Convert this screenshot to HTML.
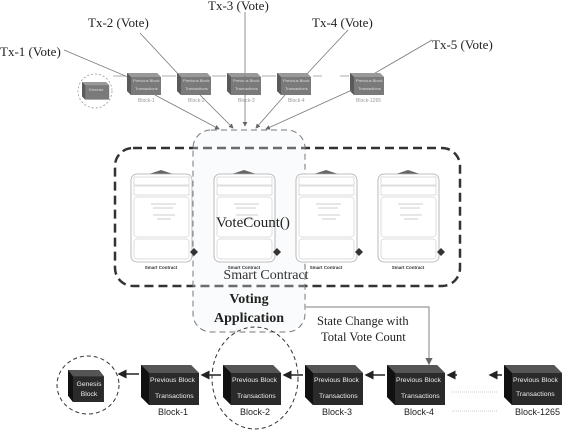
<!DOCTYPE html>
<html><head><meta charset="utf-8"><style>
html,body{margin:0;padding:0;background:#fff;}
svg{display:block;}
.tx{font-family:"Liberation Serif",serif;font-size:13px;fill:#222;}
.sm{font-family:"Liberation Sans",sans-serif;font-size:4px;fill:#ddd;}
.lb{font-family:"Liberation Sans",sans-serif;font-size:9px;fill:#222;}
.wt{font-family:"Liberation Sans",sans-serif;font-size:6.8px;fill:#eee;}
</style></head><body>
<svg width="566" height="430" viewBox="0 0 566 430" xmlns="http://www.w3.org/2000/svg">
<defs>
<marker id="ah" markerWidth="6" markerHeight="6" refX="5" refY="3" orient="auto"><path d="M0,0 L6,3 L0,6 z" fill="#666"/></marker>
<marker id="ahb" markerWidth="6" markerHeight="6" refX="5" refY="3" orient="auto"><path d="M0,0 L6,3 L0,6 z" fill="#222"/></marker>
<g id="tb">
<path d="M0,0 h30 l4,4 v18 h-30 l-4,-4z" fill="#7a7a7a"/>
<path d="M0,0 h30 l4,4 h-30z" fill="#999"/>
<path d="M0,0 l4,4 v18 l-4,-4z" fill="#5a5a5a"/>
</g>
<g id="bb">
<path d="M0,0 h50 l8,8 v32 h-50 l-8,-8z" fill="#2a2a2a"/>
<path d="M0,0 h50 l8,8 h-50z" fill="#555"/>
<path d="M0,0 l8,8 v32 l-8,-8z" fill="#111"/>
</g>
<g id="card">
<path d="M18,-6 l12,-4 l12,4z" fill="#666"/>
<rect x="0" y="-6" width="61" height="88" rx="6" fill="#fff" stroke="#aaa" stroke-width="0.8"/>
<rect x="3" y="-3" width="55" height="8" fill="none" stroke="#bbb" stroke-width="0.5"/>
<rect x="3" y="6" width="55" height="9" fill="none" stroke="#bbb" stroke-width="0.5"/>
<rect x="3" y="17" width="55" height="40" rx="3" fill="none" stroke="#bbb" stroke-width="0.5"/>
<rect x="3" y="59" width="55" height="20" rx="3" fill="none" stroke="#bbb" stroke-width="0.5"/>
<path d="M20,24 h25 M22,28 h20 M22,35 h22 M26,39 h14" stroke="#999" stroke-width="0.6"/>
<path d="M63,68 l4,4 l-4,4 l-4,-4z" fill="#333"/>
<text x="30" y="89" font-family="Liberation Sans,sans-serif" font-size="4.5" font-weight="bold" fill="#333" text-anchor="middle">Smart Contract</text>
</g>
</defs>

<text class="tx" x="0" y="56">Tx-1 (Vote)</text>
<text class="tx" x="88" y="27">Tx-2 (Vote)</text>
<text class="tx" x="208" y="10">Tx-3 (Vote)</text>
<text class="tx" x="312" y="27">Tx-4 (Vote)</text>
<text class="tx" x="432" y="49">Tx-5 (Vote)</text>
<g stroke="#777" stroke-width="0.8">
<line x1="64" y1="50" x2="128" y2="77"/>
<line x1="140" y1="33" x2="180" y2="76"/>
<line x1="245" y1="12" x2="245" y2="75"/>
<line x1="348" y1="30" x2="305" y2="76"/>
<line x1="432" y1="40" x2="370" y2="76"/>
</g>
<circle cx="95" cy="91" r="17" fill="none" stroke="#999" stroke-width="0.8" stroke-dasharray="2,2"/>
<g transform="translate(82,82) scale(0.8)"><use href="#tb"/></g>
<text x="96" y="91" class="sm" text-anchor="middle">Genesis</text>
<use href="#tb" x="127" y="73"/><use href="#tb" x="177" y="73"/><use href="#tb" x="227" y="73"/><use href="#tb" x="277" y="73"/><use href="#tb" x="350" y="73"/>
<g class="sm"><text x="133" y="82">Previous Block</text><text x="135" y="90">Transactions</text>
<text x="183" y="82">Previous Block</text><text x="185" y="90">Transactions</text>
<text x="233" y="82">Previous Block</text><text x="235" y="90">Transactions</text>
<text x="283" y="82">Previous Block</text><text x="285" y="90">Transactions</text>
<text x="356" y="82">Previous Block</text><text x="358" y="90">Transactions</text></g>
<g font-family="Liberation Sans,sans-serif" font-size="5" fill="#999">
<text x="138" y="102">Block-1</text><text x="188" y="102">Block-2</text><text x="238" y="102">Block-3</text><text x="288" y="102">Block-4</text><text x="356" y="102">Block-1265</text></g>
<g stroke="#888" stroke-width="0.7">
<line x1="126" y1="76" x2="113" y2="76"/><line x1="176" y1="76" x2="162" y2="76"/><line x1="226" y1="76" x2="212" y2="76"/><line x1="276" y1="76" x2="262" y2="76"/><line x1="349" y1="76" x2="340" y2="76"/><line x1="322" y1="76" x2="313" y2="76"/>
</g>
<g stroke="#777" stroke-width="0.8" marker-end="url(#ah)">
<line x1="155" y1="95" x2="219" y2="129"/>
<line x1="200" y1="95" x2="233" y2="128"/>
<line x1="245" y1="75" x2="245" y2="126"/>
<line x1="285" y1="95" x2="256" y2="128"/>
<line x1="352" y1="90" x2="266" y2="129"/>
</g>

<rect x="115" y="148" width="345" height="138" rx="18" fill="none" stroke="#333" stroke-width="2.5" stroke-dasharray="9,5"/>
<rect x="193" y="130" width="112" height="202" rx="18" fill="rgba(240,243,246,0.3)" stroke="#777" stroke-width="1" stroke-dasharray="6,4"/>
<use href="#card" x="131" y="180"/>
<use href="#card" x="214" y="180"/>
<use href="#card" x="296" y="180"/>
<use href="#card" x="378" y="180"/>
<text x="216" y="227" font-family="Liberation Serif,serif" font-size="15" fill="#222">VoteCount()</text>
<text x="266" y="279" font-family="Liberation Serif,serif" font-size="14" fill="#333" text-anchor="middle">Smart Contract</text>
<text x="249" y="303" font-family="Liberation Serif,serif" font-size="14" font-weight="bold" fill="#222" text-anchor="middle">Voting</text>
<text x="249" y="322" font-family="Liberation Serif,serif" font-size="14" font-weight="bold" fill="#222" text-anchor="middle">Application</text>
<path d="M306,307 H429 V364" fill="none" stroke="#999" stroke-width="1.2" marker-end="url(#ah)"/>
<text x="317" y="325" font-family="Liberation Serif,serif" font-size="12.5" fill="#222">State Change with</text>
<text x="321" y="341" font-family="Liberation Serif,serif" font-size="12.5" fill="#222">Total Vote Count</text>

<ellipse cx="88" cy="385" rx="31" ry="29" fill="none" stroke="#333" stroke-width="1" stroke-dasharray="4,3"/>
<ellipse cx="255" cy="378" rx="43" ry="51" fill="none" stroke="#333" stroke-width="1" stroke-dasharray="4,3"/>
<g transform="translate(68,370) scale(0.62,0.8)"><use href="#bb"/></g>
<use href="#bb" x="141" y="365"/><use href="#bb" x="223" y="365"/><use href="#bb" x="305" y="365"/><use href="#bb" x="387" y="365"/><use href="#bb" x="504" y="365"/>
<text x="89" y="386" class="wt" text-anchor="middle" font-size="6.5">Genesis</text>
<text x="89" y="396" class="wt" text-anchor="middle" font-size="6.5">Block</text>
<g class="wt">
<text x="150" y="382">Previous Block</text><text x="155" y="398">Transactions</text>
<text x="232" y="382">Previous Block</text><text x="237" y="398">Transactions</text>
<text x="314" y="382">Previous Block</text><text x="319" y="398">Transactions</text>
<text x="396" y="382">Previous Block</text><text x="401" y="398">Transactions</text>
<text x="513" y="382">Previous Block</text><text x="516" y="396">Transactions</text></g>
<g class="lb">
<text x="158" y="415">Block-1</text><text x="240" y="415">Block-2</text><text x="322" y="415">Block-3</text><text x="404" y="415">Block-4</text><text x="515" y="415">Block-1265</text></g>
<g stroke="#222" stroke-width="1.5" marker-end="url(#ahb)">
<line x1="139" y1="374" x2="119" y2="374"/>
<line x1="221" y1="375" x2="202" y2="375"/>
<line x1="303" y1="375" x2="284" y2="375"/>
<line x1="385" y1="375" x2="366" y2="375"/>
<line x1="457" y1="375" x2="448" y2="375"/>
<line x1="502" y1="375" x2="490" y2="375"/>
</g>
<g stroke="#bbb" stroke-width="0.7" stroke-dasharray="1,1">
<line x1="452" y1="392" x2="498" y2="392"/><line x1="452" y1="411" x2="498" y2="411"/>
</g>
</svg>
</body></html>
